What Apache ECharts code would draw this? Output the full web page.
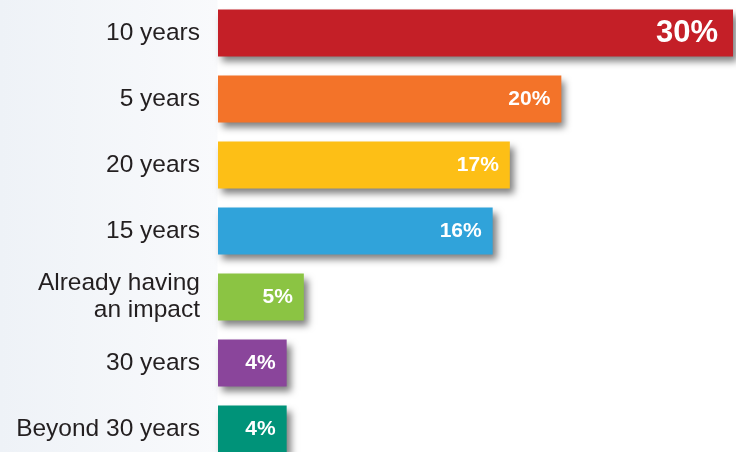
<!DOCTYPE html>
<html>
<head>
<meta charset="utf-8">
<script src="https://cdn.jsdelivr.net/npm/echarts@6/dist/echarts.min.js"></script>
<style>
html,body{margin:0;padding:0;}
body{width:736px;height:452px;overflow:hidden;background:linear-gradient(to right,#eef2f7 0px,#f9fafc 217px,#ffffff 218px);}
#c{width:736px;height:452px;}
</style>
</head>
<body>
<div id="c"></div>
<script>
var categories = ['10 years', '5 years', '20 years', '15 years', 'Already having\nan impact', '30 years', 'Beyond 30 years'];
var values = [30, 20, 17, 16, 5, 4, 4];
var palette = ['#c41f27', '#f37329', '#fdbf16', '#30a3da', '#8bc443', '#8a459b', '#009379'];

var maxVal = Math.max.apply(null, values);
var seriesData = values.map(function (v, i) {
  var big = v === maxVal;
  return {
    value: v,
    itemStyle: { color: palette[i] },
    label: { fontSize: big ? 31 : 21, distance: big ? 15 : 11 }
  };
});

var chart = echarts.init(document.getElementById('c'), null, { renderer: 'canvas' });
chart.setOption({
  backgroundColor: 'transparent',
  animation: false,
  grid: { left: 218, right: 3, top: 0, height: 462, outerBoundsMode: 'none' },
  xAxis: {
    type: 'value', min: 0, max: 30,
    show: false
  },
  yAxis: {
    type: 'category', data: categories, inverse: true,
    axisLine: { show: false }, axisTick: { show: false }, splitLine: { show: false },
    axisLabel: {
      margin: 18, color: '#231f20', fontSize: 24.5, lineHeight: 27,
      fontFamily: 'Liberation Sans, Arial, sans-serif', align: 'right',
      padding: [3, 0, 0, 0]
    }
  },
  series: [{
    type: 'bar',
    data: seriesData,
    barWidth: 47,
    itemStyle: {
      shadowColor: 'rgba(0,0,0,0.5)', shadowBlur: 7, shadowOffsetX: 4, shadowOffsetY: 5
    },
    label: {
      show: true, position: 'insideRight', color: '#ffffff', fontWeight: 'bold',
      fontFamily: 'Liberation Sans, Arial, sans-serif',
      formatter: function (p) { return p.value + '%'; }
    }
  }]
});
</script>
</body>
</html>
